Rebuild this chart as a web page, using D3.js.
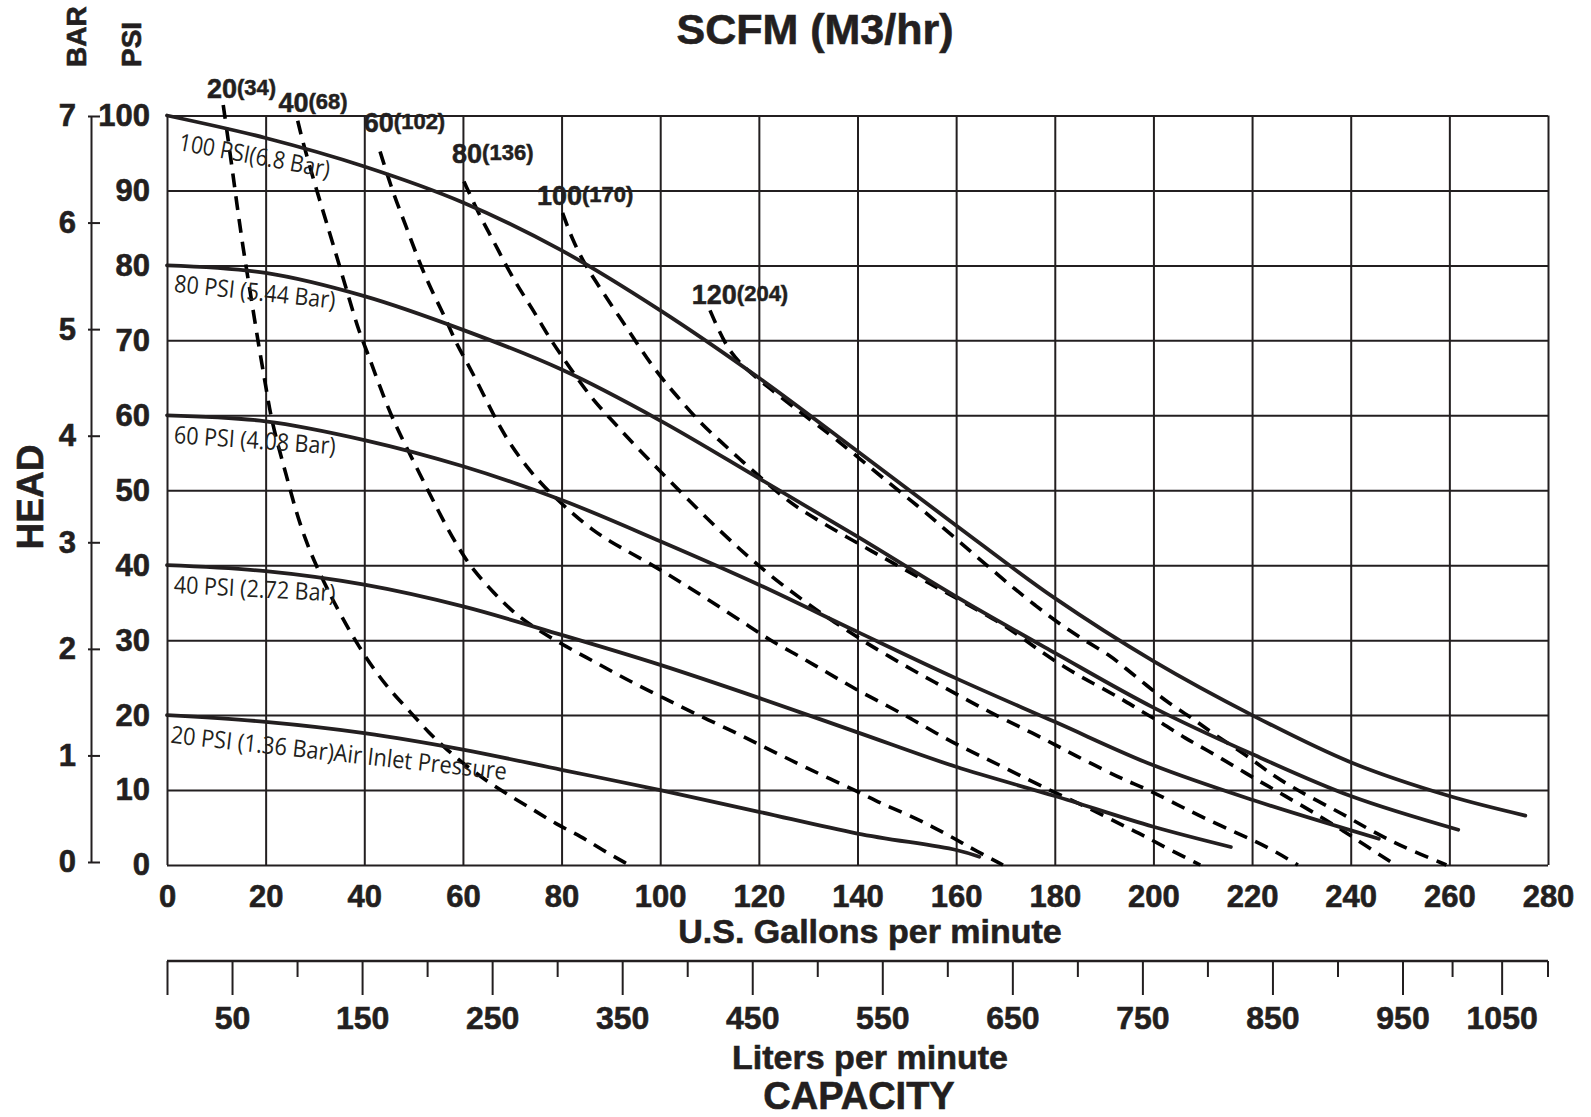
<!DOCTYPE html>
<html><head><meta charset="utf-8">
<script src="https://cdn.jsdelivr.net/npm/d3@7"></script>
<style>body{margin:0;background:#fff}</style>
</head><body>
<svg id="c" width="1591" height="1117"></svg>
<script>
// ---------- DATA ----------
const gpmTicks = [0,20,40,60,80,100,120,140,160,180,200,220,240,260,280];
const psiTicks = [0,10,20,30,40,50,60,70,80,90,100];
const barTicks = [0,1,2,3,4,5,6,7];
const litersMajor = [50,150,250,350,450,550,650,750,850,950,1050];
const litersMinor = [100,200,300,400,500,600,700,800,900,1000];

// air inlet pressure curves: [US gpm, head psi]
const psi100Curve = [[0,100],[20,97],[40,93.2],[60,88.4],[80,82],[100,74],[120,65],[140,55.2],[160,45.3],[180,35.6],[200,27.2],[220,20],[240,13.7],[260,9.2],[275.4,6.6]];
const psi80Curve  = [[0,80],[20,79],[40,75.9],[60,71.4],[80,66.1],[100,59.3],[120,51.6],[140,43.8],[160,35.8],[180,28.3],[200,21],[220,14.8],[240,9.2],[261.8,4.7]];
const psi60Curve  = [[0,60],[20,59.2],[40,56.7],[60,53.2],[80,48.7],[100,43.2],[120,37.4],[140,31.1],[160,24.9],[180,19.1],[200,13.3],[220,8.7],[245.7,3.5]];
const psi40Curve  = [[0,40],[20,39.2],[40,37.4],[60,34.5],[80,30.7],[100,26.7],[120,22.3],[140,17.7],[160,13.1],[180,9.2],[200,5.1],[215.7,2.4]];
const psi20Curve  = [[0,20],[20,19.1],[40,17.6],[60,15.4],[80,12.7],[100,10],[120,7.1],[140,4.2],[160,2.0],[164.7,1.1]];
const airLabels = ["100 PSI(6.8 Bar)","80 PSI (5.44 Bar)","60 PSI (4.08 Bar)","40 PSI (2.72 Bar)","20 PSI (1.36 Bar)Air Inlet Pressure"];

// air consumption curves (SCFM): [US gpm, head psi]
const scfm20Curve = [[11.4,101.4],[13,94],[14.2,88],[15.5,82],[16.5,78],[17.7,73],[18.8,68.5],[20,64],[21,60],[22.5,56],[24.2,52],[26,47.5],[28,43.5],[30,40.3],[32.5,36.8],[35.5,33],[39,29],[42.5,25.6],[45.5,23.1],[49.5,20.3],[53,17.7],[56.7,15.4],[62,12.5],[68,9.8],[74,7.5],[79,5.4],[84,3.8],[88,2.1],[93.7,0]];
const scfm40Curve = [[26.5,99.3],[27.6,96.3],[30.3,90.1],[33,84.3],[35,79.9],[37,75.4],[39,71],[40.7,68.3],[43.1,63.9],[45.8,59.4],[48.8,55.4],[53.2,49.6],[56.6,45.2],[59.3,42.1],[62,39.4],[66,36.5],[70,33.8],[75,31.4],[81,29.1],[87,27],[93,24.8],[100,22.5],[106.7,20.3],[115.5,17.6],[120.2,16],[124.9,14.5],[129.6,13],[135,11.3],[140.4,9.7],[144.5,8.3],[149.9,6.8],[155.3,5.1],[160,3.4],[164,1.9],[169.5,0]];
const scfm60Curve = [[43.2,95.2],[45.8,89.7],[48.5,85.2],[51.2,80.3],[53.9,76.3],[56.6,72.8],[58.6,69.6],[61.3,66.5],[64,63],[66.7,59.4],[69.4,56.3],[72.8,53.2],[77,50],[82.9,46.5],[86.3,44.7],[89.7,43.2],[94.4,41.5],[100,39.4],[104,37.8],[108.8,35.8],[113.5,33.8],[118.2,31.8],[122.2,30],[127,28.3],[131.7,26.5],[136.4,24.7],[141.1,22.9],[146.5,21.1],[151.2,19.4],[155.9,17.6],[160.6,15.9],[165.4,14.4],[170.1,12.9],[175.5,11.1],[180.2,9.6],[184.9,8.2],[189.6,6.7],[194.3,5.1],[198.4,3.8],[203.1,2.1],[209.5,0]];
const scfm80Curve = [[60.2,91.2],[63.4,86.6],[66.1,83.4],[68.8,79.9],[71.5,76.8],[74.2,74.1],[76.9,71],[79.6,68.3],[82.9,65.2],[86.3,62.1],[90.4,59.2],[94.4,56.3],[98.4,53.6],[102,51.2],[107.4,47.6],[112.1,44.6],[116.2,42.1],[120.2,39.8],[124.3,37.6],[129,35.3],[133,33.4],[137.7,31.4],[141.8,29.6],[146.5,27.8],[151.2,26],[155.9,24.3],[160.6,22.6],[165.4,20.9],[170.1,19.3],[175.5,17.6],[180.2,16],[184.2,14.6],[189.6,12.8],[194.3,11.3],[198.8,10.1],[204.1,8.3],[209.5,6.5],[217.1,4.2],[223.2,2.4],[229.3,0]];
const scfm100Curve = [[80.2,87],[82.2,83.4],[84.9,79.9],[87.6,77.2],[90.3,74.5],[93,71.9],[95.7,69.2],[98.4,66.6],[101.1,64.3],[104,62.1],[108.1,59],[112.1,56.6],[116.2,54.1],[120.2,51.8],[125.6,48.7],[129,47.2],[133,45.6],[137.7,43.8],[143.1,41.8],[147.2,40.3],[152.6,38.3],[155.9,37.1],[160.6,35.4],[165.4,33.6],[170.8,31.6],[176,29],[182.1,26.3],[188.1,24.1],[193.5,22.2],[197.3,20.6],[201.9,18.9],[206.4,16.9],[211,15.3],[216.3,13.2],[220.9,11.4],[226.2,9.4],[233.8,6.5],[238.4,4.6],[243,2.6],[249.1,0]];
const scfm120Curve = [[110.1,74],[111.8,71.4],[114.2,68.3],[118,65.8],[122.2,63.6],[127,61.1],[131.7,58.8],[139.1,55],[147.2,50.5],[151.2,48.5],[159.3,43.9],[167.4,39.3],[171.4,37.1],[176.1,34.6],[180.9,32.2],[185.9,30],[191.2,28],[194.2,26.3],[198.8,23.9],[202.6,21.8],[207.9,19.6],[211,18],[220.1,14.1],[223.2,12.4],[227.8,10.5],[233.1,8.6],[238.4,6.8],[243,5],[247.6,3.4],[252.1,2],[259.4,0]];
const scfmLabels = ["20","40","60","80","100","120"];
const m3hrLabels = ["(34)","(68)","(102)","(136)","(170)","(204)"];

const airCurves = [psi100Curve, psi80Curve, psi60Curve, psi40Curve, psi20Curve];
const scfmCurves = [scfm20Curve, scfm40Curve, scfm60Curve, scfm80Curve, scfm100Curve, scfm120Curve];

// ---------- DRAWING ----------
const INK = '#231f20';
const BOLD = "'Liberation Sans', Arial, Helvetica, sans-serif";
const svg = d3.select('#c');
svg.append('rect').attr('width',1591).attr('height',1117).attr('fill','#fff');

const x = d3.scaleLinear().domain([0,280]).range([167,1548]);
const y = d3.scaleLinear().domain([0,100]).range([865,115.5]);
const yBar = d3.scaleLinear().domain([0,7]).range([862,116]);
// liters scale (printed scale compresses slightly past 950 L/min)
const xLit = d3.scaleLinear().domain([0,950,1050]).range([x(0), x(250.5), x(270.6)]);

function styleText(sel, size){
  sel.attr('font-family',BOLD).attr('font-weight','bold').attr('font-size',size).attr('fill',INK)
     .attr('stroke',INK).attr('stroke-width',0.6);
}

// vertical grid + gpm labels
const gx = svg.append('g').attr('transform',`translate(0,${y(0)})`)
  .call(d3.axisBottom(x).tickValues(gpmTicks).tickSize(-(y(0)-y(100))).tickSizeOuter(0).tickPadding(20));
gx.select('.domain').remove();
gx.selectAll('.tick line').attr('stroke',INK).attr('stroke-width',2);
styleText(gx.selectAll('.tick text'), 31);

// horizontal grid + psi labels
const gy = svg.append('g').attr('transform',`translate(${x(0)},0)`)
  .call(d3.axisLeft(y).tickValues(psiTicks).tickSize(-(x(280)-x(0))).tickSizeOuter(0).tickPadding(17));
gy.select('.domain').remove();
gy.selectAll('.tick line').attr('stroke',INK).attr('stroke-width',2);
styleText(gy.selectAll('.tick text'), 31);

// BAR axis
const gb = svg.append('g').attr('transform','translate(91,0)')
  .call(d3.axisLeft(yBar).tickValues(barTicks).tickFormat(d3.format('d')).tickSize(-9).tickSizeOuter(0).tickPadding(15));
gb.select('.domain').attr('stroke',INK).attr('stroke-width',2);
gb.selectAll('.tick line').attr('x1',-3).attr('stroke',INK).attr('stroke-width',2);
styleText(gb.selectAll('.tick text'), 31);

// liters axis
const litY = 961;
svg.append('line').attr('x1',x(0)).attr('x2',x(280)).attr('y1',litY).attr('y2',litY)
  .attr('stroke',INK).attr('stroke-width',2.5);
const gl = svg.append('g').attr('transform',`translate(0,${litY})`)
  .call(d3.axisBottom(xLit).tickValues([0].concat(litersMajor)).tickSize(34).tickPadding(11)
        .tickFormat(d => d === 0 ? '' : d));
gl.select('.domain').remove();
gl.selectAll('.tick line').attr('stroke',INK).attr('stroke-width',2);
styleText(gl.selectAll('.tick text'), 32);
const gm = svg.append('g').attr('transform',`translate(0,${litY})`)
  .call(d3.axisBottom(xLit).tickValues(litersMinor).tickSize(16).tickFormat(''));
gm.select('.domain').remove();
gm.selectAll('.tick line').attr('stroke',INK).attr('stroke-width',2);
svg.append('line').attr('x1',x(280)).attr('x2',x(280)).attr('y1',litY).attr('y2',litY+16)
  .attr('stroke',INK).attr('stroke-width',2);

// curves
const lineSmooth = d3.line().x(d=>x(d[0])).y(d=>y(d[1])).curve(d3.curveCatmullRom.alpha(0.5));
const lineDash = d3.line().x(d=>x(d[0])).y(d=>y(d[1])).curve(d3.curveBasis);

svg.append('g').selectAll('path').data(scfmCurves).join('path')
  .attr('d', lineDash).attr('fill','none').attr('stroke','#000')
  .attr('stroke-width',3.6).attr('stroke-dasharray','14,9');

svg.append('g').selectAll('path').data(airCurves).join('path')
  .attr('d', lineSmooth).attr('fill','none').attr('stroke',INK)
  .attr('stroke-width',3.8).attr('stroke-linecap','round');

// air pressure curve labels (anchor in data units, angle in degrees, length px)
const airLabelAt = [[2.2,95.4,10.5,153],[1.3,76.5,6,162],[1.3,56.3,4,162],[1.3,36.3,3,162],[0.6,16.3,6.3,338]];
airLabels.forEach((t,i)=>{
  const a = airLabelAt[i];
  svg.append('text')
    .attr('transform',`translate(${x(a[0])},${y(a[1])}) rotate(${a[2]})`)
    .attr('font-family',"'Open Sans','Noto Sans',sans-serif").attr('font-size',24)
    .attr('fill',INK).attr('textLength',a[3]).attr('lengthAdjust','spacingAndGlyphs')
    .text(t);
});

// SCFM labels
const scfmLabelAt = [[8.1,102.3],[22.6,100.5],[39.9,97.8],[57.8,93.6],[75,88],[106.4,74.9]];
scfmLabels.forEach((t,i)=>{
  const a = scfmLabelAt[i];
  const tx = svg.append('text').attr('x',x(a[0])).attr('y',y(a[1]))
    .attr('font-family',BOLD).attr('font-weight','bold').attr('fill',INK)
    .attr('stroke',INK).attr('stroke-width',0.5);
  tx.append('tspan').attr('font-size',27).text(t);
  tx.append('tspan').attr('font-size',22).attr('dy',-3).text(m3hrLabels[i]);
});

// titles
function title(txt, size, tx, ty, rot){
  const t = svg.append('text').attr('transform',`translate(${tx},${ty})${rot?` rotate(${rot})`:''}`)
    .attr('text-anchor', rot ? 'start' : 'middle').text(txt);
  styleText(t, size);
  return t;
}
title('SCFM (M3/hr)', 43, 815, 44);
title('U.S. Gallons per minute', 34, 870, 943);
title('Liters per minute', 34, 870, 1069);
title('CAPACITY', 38, 859, 1109);
title('BAR', 28, 86, 67, -90);
title('PSI', 28, 141, 67, -90);
title('HEAD', 37, 43, 497, -90).attr('text-anchor','middle');
</script>
</body></html>
